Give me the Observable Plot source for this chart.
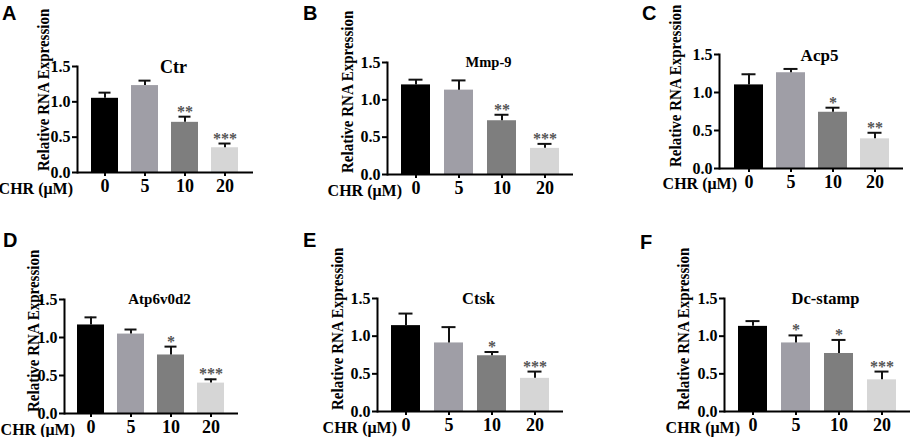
<!DOCTYPE html>
<html>
<head>
<meta charset="utf-8">
<script src="https://cdn.jsdelivr.net/npm/d3@7"></script>
<script src="https://cdn.jsdelivr.net/npm/@observablehq/plot@0.6"></script>
<style>
  body { margin: 0; background: #fff; }
  #fig { position: relative; width: 913px; height: 437px; overflow: hidden; background: #fff; }
  .abs { position: absolute; white-space: nowrap; line-height: 1; }
  .letter { font-family: "Liberation Sans", Arial, sans-serif; font-weight: bold; font-size: 20px; }
  .serif { font-family: "Liberation Serif", "Times New Roman", serif; font-weight: bold; }
  .ylab { font-size: 15px; transform-origin: 0 0; transform: rotate(-90deg) scale(1, 1.15); }
  .chr { font-size: 16px; text-align: right; width: 100px; }
</style>
</head>
<body>
<div id="fig"></div>
<script>
// ---- data ----
const doses = ["0", "5", "10", "20"];
const doseLabel = "CHR (μM)";
const yLabel = "Relative RNA Expression";
const yTicks = [0, 0.5, 1.0, 1.5];
const barColors = ["#000000", "#9f9ea6", "#7e7e7e", "#d6d6d6"];

const genes = ["Ctr", "Mmp-9", "Acp5", "Atp6v0d2", "Ctsk", "Dc-stamp"];
const letters = ["A", "B", "C", "D", "E", "F"];

const ctrMean = [1.05, 1.23, 0.71, 0.35];
const ctrSem  = [0.08, 0.07, 0.08, 0.06];
const ctrSig  = ["", "", "**", "***"];

const mmp9Mean = [1.20, 1.13, 0.72, 0.35];
const mmp9Sem  = [0.07, 0.13, 0.08, 0.06];
const mmp9Sig  = ["", "", "**", "***"];

const acp5Mean = [1.10, 1.26, 0.74, 0.39];
const acp5Sem  = [0.14, 0.05, 0.06, 0.08];
const acp5Sig  = ["", "", "*", "**"];

const atpMean = [1.165, 1.045, 0.77, 0.40];
const atpSem  = [0.10, 0.06, 0.11, 0.05];
const atpSig  = ["", "", "*", "***"];

const ctskMean = [1.14, 0.91, 0.74, 0.44];
const ctskSem  = [0.16, 0.21, 0.05, 0.09];
const ctskSig  = ["", "", "*", "***"];

const dcMean = [1.13, 0.91, 0.77, 0.42];
const dcSem  = [0.07, 0.10, 0.18, 0.11];
const dcSig  = ["", "*", "*", "***"];

const means = [ctrMean, mmp9Mean, acp5Mean, atpMean, ctskMean, dcMean];
const sems = [ctrSem, mmp9Sem, acp5Sem, atpSem, ctskSem, dcSem];
const sigs = [ctrSig, mmp9Sig, acp5Sig, atpSig, ctskSig, dcSig];

// ---- layout (frame left, right, top, bottom) ----
const frames = [
  [77, 253, 66, 172],
  [387, 573, 62, 174],
  [719, 903, 54, 168],
  [64, 238, 299, 413],
  [377, 563, 298, 411],
  [724, 910, 298, 411]
];
const titleSize = [18, 14.5, 17, 15, 16.5, 16.5];
const letterPos = [[2, 3], [303, 3], [642, 3], [3, 230], [303, 230], [640, 232]];
const ylabX = [43, 347, 675, 33, 337, 683];
const chrPos = [[73, 189], [402, 191], [737, 184], [75, 430], [397, 428], [740, 428]];

const SERIF = "'Liberation Serif', 'Times New Roman', serif";
const fig = document.getElementById("fig");
const ml = 45, mr = 3, mt = 24, mb = 30;

genes.forEach((gene, i) => {
  const rows = doses.map((d, j) => ({
    dose: d, mean: means[i][j], top: means[i][j] + sems[i][j], sig: sigs[i][j]
  }));
  const [fl, fr, ft, fb] = frames[i];
  const fw = fr - fl, fh = fb - ft;
  const chart = Plot.plot({
    width: fw + ml + mr,
    height: fh + mt + mb,
    marginLeft: ml, marginRight: mr, marginTop: mt, marginBottom: mb,
    style: { fontFamily: SERIF, fontWeight: "bold", color: "#000", background: "transparent", overflow: "visible" },
    x: { domain: doses, padding: 0.32, label: null, axis: null },
    y: { domain: [0, 1.5], label: null, axis: null },
    color: { domain: doses, range: barColors },
    marks: [
      Plot.barY(rows, { x: "dose", y: "mean", fill: "dose" }),
      Plot.ruleX(rows, { x: "dose", y1: "mean", y2: "top", stroke: "#111", strokeWidth: 2 }),
      Plot.tickY(rows, { x: "dose", y: "top", stroke: "#111", strokeWidth: 2, insetLeft: 7.5, insetRight: 7.5 }),
      Plot.text(rows, { x: "dose", y: "top", text: "sig", lineAnchor: "bottom", dy: 0, fontSize: 16, fontFamily: SERIF, fill: "#555" }),
      Plot.axisY({ ticks: yTicks, tickFormat: d3.format(".1f"), tickSize: 5, tickPadding: 2, fontSize: 16, fontFamily: SERIF, fontWeight: "bold", fill: "#000", stroke: "#000", strokeWidth: 2, label: null }),
      Plot.axisX({ tickSize: 4, tickPadding: 3, fontSize: 18, fontFamily: SERIF, fontWeight: "bold", fill: "#000", stroke: "#000", strokeWidth: 2, label: null }),
      Plot.ruleY([0], { strokeWidth: 2, stroke: "#000" }),
      Plot.frame({ anchor: "left", strokeWidth: 2, stroke: "#000" }),
      Plot.text([gene], { frameAnchor: "top", dy: -6, dx: 8, fontSize: titleSize[i], fontFamily: SERIF, fontWeight: "bold", fill: "#000" })
    ]
  });
  chart.style.position = "absolute";
  chart.style.left = (fl - ml) + "px";
  chart.style.top = (ft - mt) + "px";
  fig.appendChild(chart);

  const L = document.createElement("div");
  L.className = "abs letter";
  L.textContent = letters[i];
  L.style.left = letterPos[i][0] + "px";
  L.style.top = letterPos[i][1] + "px";
  fig.appendChild(L);

  const Y = document.createElement("div");
  Y.className = "abs serif ylab";
  Y.textContent = yLabel;
  Y.style.left = (ylabX[i] - 8.5) + "px";
  Y.style.top = (fb - 1) + "px";
  fig.appendChild(Y);

  const C = document.createElement("div");
  C.className = "abs serif chr";
  C.textContent = doseLabel;
  C.style.left = (chrPos[i][0] - 100) + "px";
  C.style.top = (chrPos[i][1] - 8) + "px";
  fig.appendChild(C);
});
</script>
</body>
</html>
